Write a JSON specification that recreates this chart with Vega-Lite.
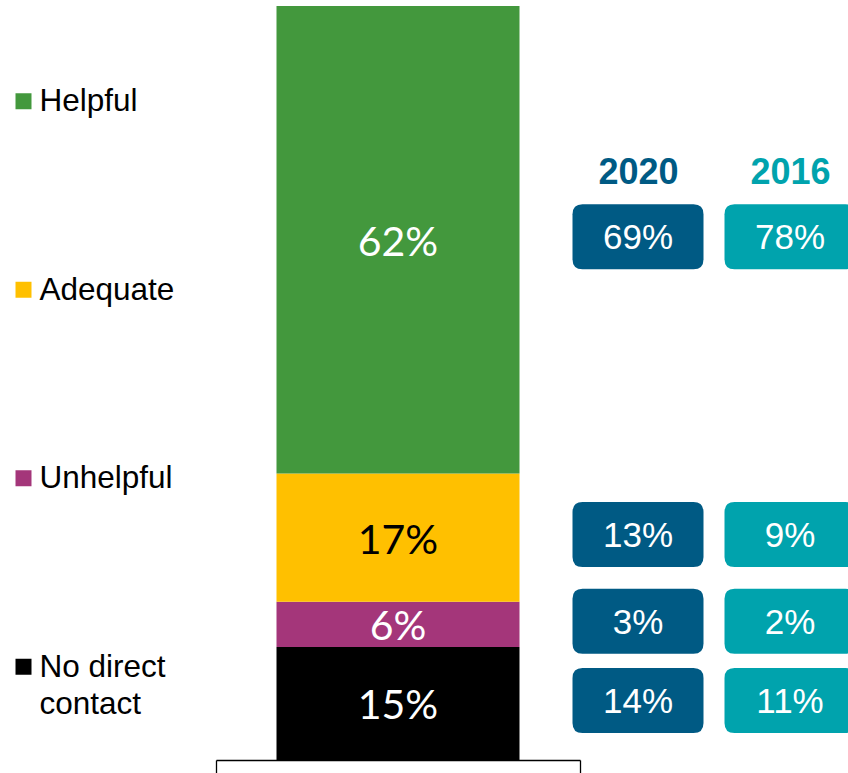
{
  "$schema": "https://vega.github.io/schema/vega-lite/v6.json",
  "padding": {"left": 0, "top": 6, "right": 0, "bottom": 0},
  "background": "white",
  "spacing": 0,
  "bounds": "flush",
  "config": {"view": {"stroke": null}, "axis": {"grid": false}},
  "resolve": {"scale": {"x": "independent", "y": "independent"}},
  "datasets": {
    "survey": [
      {"category": "No direct contact", "value": 0.15, "2020": 0.14, "2016": 0.11},
      {"category": "Unhelpful", "value": 0.06, "2020": 0.03, "2016": 0.02},
      {"category": "Adequate", "value": 0.17, "2020": 0.13, "2016": 0.09},
      {"category": "Helpful", "value": 0.62, "2020": 0.69, "2016": 0.78}
    ]
  },
  "hconcat": [
    {
      "width": 216,
      "height": 754,
      "data": {"name": "survey"},
      "encoding": {
        "x": {"datum": "swatch", "type": "nominal", "scale": {"type": "point", "domain": ["swatch"], "padding": 0.5, "align": 0.1088}, "axis": null},
        "y": {"field": "category", "type": "nominal", "scale": {"type": "band", "domain": ["Helpful", "Adequate", "Unhelpful", "No direct contact"], "paddingInner": 0, "paddingOuter": 0}, "axis": null}
      },
      "layer": [
        {
          "mark": {"type": "point", "shape": "square", "size": 256, "filled": true, "opacity": 1, "strokeWidth": 0, "yOffset": 1},
          "encoding": {
            "color": {"field": "category", "type": "nominal", "scale": {"domain": ["Helpful", "Adequate", "Unhelpful", "No direct contact"], "range": ["#43983D", "#FFC000", "#A4367A", "#000000"]}, "legend": null}
          }
        },
        {
          "mark": {"type": "text", "align": "left", "baseline": "alphabetic", "dx": 16, "dy": 11, "fontSize": 31.5, "font": "Liberation Sans", "lineHeight": 37, "color": "black"},
          "encoding": {
            "text": {"condition": {"test": "datum.category == 'No direct contact'", "value": ["No direct", "contact"]}, "field": "category"}
          }
        }
      ]
    },
    {
      "width": 364,
      "height": 754,
      "data": {"name": "survey"},
      "transform": [{"stack": "value", "groupby": [], "as": ["v0", "v1"]}],
      "layer": [
        {
          "mark": {"type": "bar", "width": {"band": 0.6676}},
          "encoding": {
            "x": {"datum": "current", "type": "nominal", "scale": {"type": "band", "paddingInner": 0, "paddingOuter": 0}, "axis": {"title": null, "labels": false, "domain": true, "domainColor": "black", "domainWidth": 1.3, "ticks": true, "tickBand": "extent", "tickSize": 14, "tickColor": "black", "tickWidth": 1.3}},
            "y": {"field": "v0", "type": "quantitative", "scale": {"domain": [0, 1], "nice": false, "zero": true}, "axis": null},
            "y2": {"field": "v1"},
            "color": {"field": "category", "type": "nominal", "legend": null}
          }
        },
        {
          "transform": [{"fold": ["v0", "v1"], "as": ["edge", "pos"]}],
          "mark": {"type": "text", "font": "Lato", "fontSize": 41, "baseline": "alphabetic", "dy": 16},
          "encoding": {
            "x": {"datum": "current", "type": "nominal"},
            "y": {"aggregate": "mean", "field": "pos", "type": "quantitative"},
            "detail": {"field": "category"},
            "text": {"field": "value", "type": "quantitative", "format": ".0%"},
            "color": {"condition": {"test": "datum.category == 'Adequate'", "value": "black"}, "value": "white"}
          }
        }
      ]
    },
    {
      "width": 268,
      "height": 754,
      "data": {"name": "survey"},
      "transform": [
        {"stack": "value", "groupby": [], "as": ["v0", "v1"]},
        {"fold": ["v0", "v1"], "as": ["edge", "pos"]},
        {"fold": ["2020", "2016"], "as": ["year", "share"]}
      ],
      "encoding": {
        "x": {"field": "year", "type": "nominal", "scale": {"type": "point", "domain": ["2020", "2016"], "padding": 0.3816},
          "axis": {"orient": "top", "title": null, "domain": false, "ticks": false, "tickSize": 0, "labelPadding": 0, "labelAngle": 0, "labelBaseline": "alphabetic", "labelFont": "Liberation Sans", "labelFontSize": 36, "labelFontWeight": "bold", "labelColor": {"condition": {"test": "datum.value == '2020'", "value": "#005A84"}, "value": "#00A3AD"}, "offset": -177}},
        "y": {"aggregate": "mean", "field": "pos", "type": "quantitative", "scale": {"domain": [0, 1], "nice": false}, "axis": null},
        "detail": {"field": "category"}
      },
      "layer": [
        {
          "mark": {"type": "point", "shape": "M -0.847 -0.496 L 0.847 -0.496 Q 1 -0.496 1 -0.343 L 1 0.343 Q 1 0.496 0.847 0.496 L -0.847 0.496 Q -1 0.496 -1 0.343 L -1 -0.343 Q -1 -0.496 -0.847 -0.496 Z", "size": 17161, "filled": true, "opacity": 1, "strokeWidth": 0, "yOffset": -3},
          "encoding": {"fill": {"condition": {"test": "datum.year == '2020'", "value": "#005A84"}, "value": "#00A3AD"}}
        },
        {
          "mark": {"type": "text", "font": "Liberation Sans", "fontSize": 35, "baseline": "alphabetic", "dy": 12.5, "yOffset": -3, "color": "white"},
          "encoding": {"text": {"field": "share", "type": "quantitative", "format": ".0%"}}
        }
      ]
    }
  ]
}
